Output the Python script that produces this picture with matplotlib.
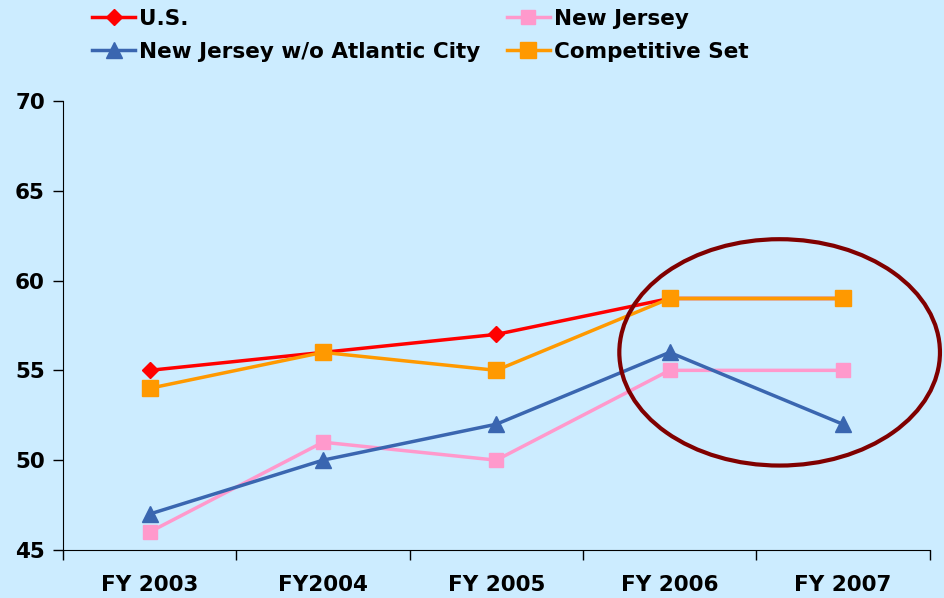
import matplotlib.pyplot as plt
from matplotlib.patches import Ellipse
import numpy as np

years = ['FY 2003', 'FY2004', 'FY 2005', 'FY 2006', 'FY 2007']
us = [55, 56, 57, 59, 59]
new_jersey = [46, 51, 50, 55, 55]
nj_wo_ac = [47, 50, 52, 56, 52]
comp_set = [54, 56, 55, 59, 59]

bg = '#CCECFF'
plt.rcParams['font.family'] = 'DejaVu Sans'
plt.rcParams['font.weight'] = 'bold'

fig = plt.figure(figsize=(9.44, 5.98), dpi=100, facecolor=bg)
ax = fig.add_axes([0.0667, 0.0803, 0.918, 0.751])
ax.set_facecolor(bg)

x = np.arange(len(years))
l_us, = ax.plot(x, us, color='#FF0000', lw=2.5, marker='D', ms=8, label='U.S.', clip_on=False)
l_nj, = ax.plot(x, new_jersey, color='#FF99CC', lw=2.5, marker='s', ms=10, label='New Jersey', clip_on=False)
l_woac, = ax.plot(x, nj_wo_ac, color='#3A66B0', lw=2.5, marker='^', ms=11, label='New Jersey w/o Atlantic City', clip_on=False)
l_comp, = ax.plot(x, comp_set, color='#FF9900', lw=2.5, marker='s', ms=11, label='Competitive Set', clip_on=False)

ax.set_xlim(-0.5, len(years) - 0.5)
ax.set_ylim(45, 70)
ax.set_yticks(range(45, 71, 5))
ax.set_xticks(np.arange(-0.5, len(years), 1.0))
ax.set_xticklabels([])
ax.set_xticks(x, minor=True)
ax.set_xticklabels(years, minor=True)
ax.tick_params(axis='x', which='major', direction='out', length=7, width=1)
ax.tick_params(axis='x', which='minor', length=0, pad=18, labelsize=15.5)
ax.tick_params(axis='y', direction='out', length=7, width=1, pad=6, labelsize=15.5)
for lab in ax.get_xticklabels(minor=True) + ax.get_yticklabels():
    lab.set_fontweight('bold')
ax.spines['top'].set_visible(False)
ax.spines['right'].set_visible(False)

# highlight ellipse around last two years
ell = Ellipse((3.635, 56.0), 1.85, 12.6, fill=False, edgecolor='#800000', lw=3, clip_on=False, zorder=5)
ax.add_patch(ell)

fig.legend(handles=[l_us, l_woac, l_nj, l_comp], ncol=2, loc='upper left',
           bbox_to_anchor=(0.077, 1.018), frameon=False,
           handlelength=2.0, handletextpad=0.2, columnspacing=1.2,
           labelspacing=0.62, markerscale=1.0, prop={'weight': 'bold', 'size': 15.5})

fig.savefig('out.png', dpi=100, facecolor=bg)
